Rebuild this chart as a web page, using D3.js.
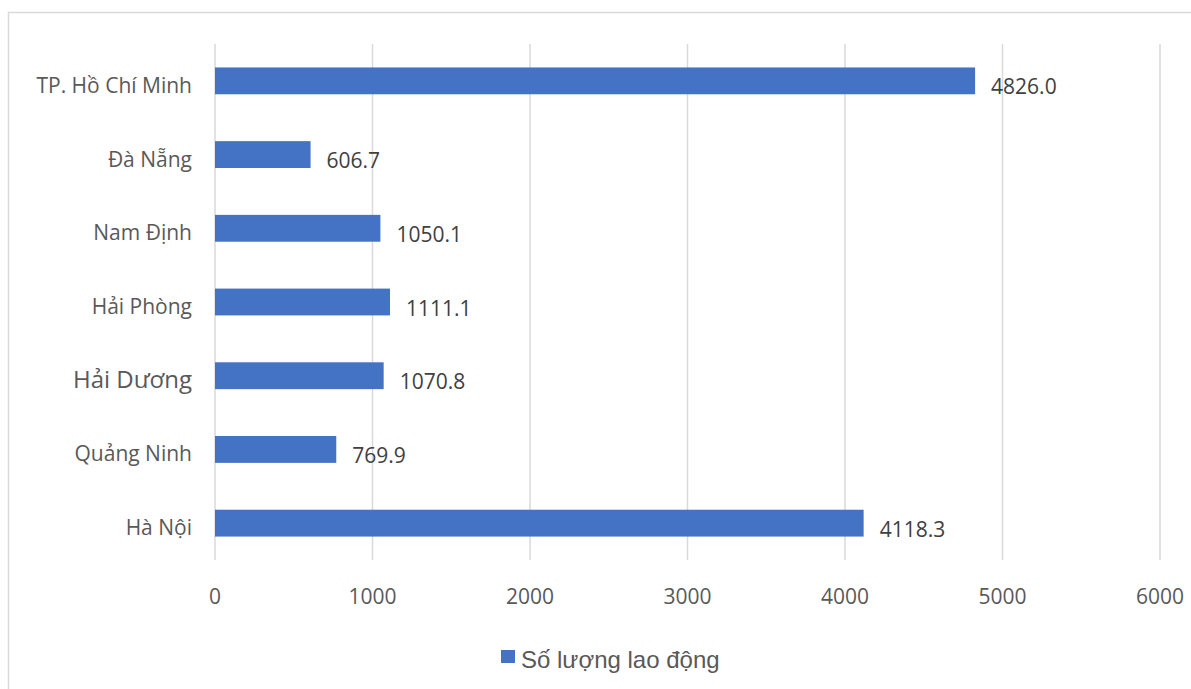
<!DOCTYPE html>
<html>
<head>
<meta charset="utf-8">
<script src="https://cdn.jsdelivr.net/npm/d3@7"></script>
<style>
  body { margin: 0; background: #fff; }
  svg text { font-family: "Open Sans", "Noto Sans", sans-serif; }
</style>
</head>
<body>
<div id="chart"></div>
<script>
// categories listed top to bottom as drawn
var provinces = ["TP. Hồ Chí Minh", "Đà Nẵng", "Nam Định", "Hải Phòng", "Hải Dương", "Quảng Ninh", "Hà Nội"];
var workers = [4826.0, 606.7, 1050.1, 1111.1, 1070.8, 769.9, 4118.3];
var xTicks = [0, 1000, 2000, 3000, 4000, 5000, 6000];
var seriesName = "Số lượng lao động";

var w = 1191, h = 689;
var svg = d3.select("#chart").append("svg").attr("width", w).attr("height", h);

// outer chart border (cropped at right / bottom in the original)
svg.append("rect").attr("x", 8.5).attr("y", 12.5).attr("width", 1200).attr("height", 700)
  .attr("fill", "none").attr("stroke", "#d9d9d9").attr("stroke-width", 1.5);

var x = d3.scaleLinear().domain([0, 6000]).range([215, 1160]);
var y = d3.scaleBand().domain(provinces).range([44, 560]).paddingInner(0.636).paddingOuter(0.318);

var rows = provinces.map(function(p, i) { return { name: p, value: workers[i] }; });

// vertical gridlines
svg.append("g").selectAll("line").data(xTicks).enter().append("line")
  .attr("x1", function(d) { return x(d); }).attr("x2", function(d) { return x(d); })
  .attr("y1", 44).attr("y2", 560)
  .attr("stroke", "#d9d9d9").attr("stroke-width", 1.5);

// x tick labels
svg.append("g").selectAll("text").data(xTicks).enter().append("text")
  .attr("x", function(d) { return x(d); }).attr("y", 604)
  .attr("text-anchor", "middle").attr("font-size", 21).attr("fill", "#595959")
  .text(function(d) { return d; });

// bars
svg.append("g").selectAll("rect").data(rows).enter().append("rect")
  .attr("x", x(0)).attr("y", function(d) { return y(d.name); })
  .attr("width", function(d) { return x(d.value) - x(0); })
  .attr("height", y.bandwidth())
  .attr("fill", "#4472c4");

// value labels
svg.append("g").selectAll("text").data(rows).enter().append("text")
  .attr("x", function(d) { return x(d.value) + 16; })
  .attr("y", function(d) { return y(d.name) + y.bandwidth() / 2 + 13.5; })
  .attr("font-size", 21).attr("fill", "#404040")
  .text(function(d) { return d.value.toFixed(1); });

// category labels
svg.append("g").selectAll("text").data(rows).enter().append("text")
  .attr("x", 192).attr("y", function(d) { return y(d.name) + y.bandwidth() / 2 + 12; })
  .attr("text-anchor", "end")
  .attr("font-size", function(d) { return d.name == "Hải Dương" ? 24 : 21; })
  .attr("fill", "#595959")
  .text(function(d) { return d.name; });

// legend
var lg = svg.append("g");
lg.append("rect").attr("x", 501).attr("y", 650).attr("width", 14).attr("height", 13).attr("fill", "#4472c4");
lg.append("text").attr("x", 521).attr("y", 668)
  .style("font-family", "'Liberation Sans', Arial, sans-serif")
  .attr("font-size", 24).attr("fill", "#595959").text(seriesName);
</script>
</body>
</html>
